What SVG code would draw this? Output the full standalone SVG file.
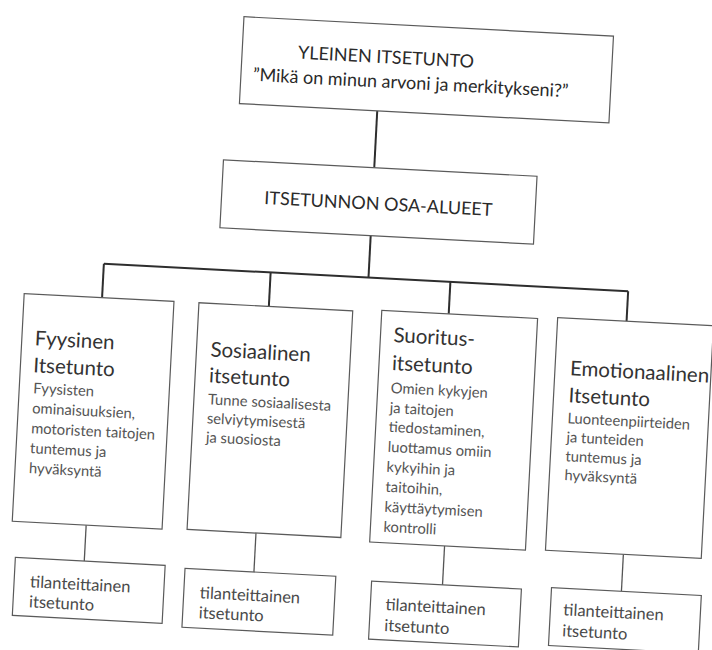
<svg xmlns="http://www.w3.org/2000/svg" width="712" height="650" viewBox="0 0 712 650">
<style>
  .box { fill: #ffffff; stroke: #5a5a5a; stroke-width: 1.2; }
  .conn { fill: none; stroke: #2e2e2e; stroke-width: 2; }
  .conn2 { fill: none; stroke: #555555; stroke-width: 1.3; }
  .title { font-family: Lato, "Open Sans", sans-serif; font-size: 18px; fill: #2a2a2a; text-anchor: middle; }
  .head { font-family: Lato, "Open Sans", sans-serif; font-size: 20.5px; fill: #333333; }
  .body { font-family: Lato, "Open Sans", sans-serif; font-size: 14.8px; fill: #555555; }
  .small { font-family: Lato, "Open Sans", sans-serif; font-size: 16.5px; fill: #4a4a4a; }
</style>
<rect x="0" y="0" width="712" height="650" fill="#ffffff"/>
<g transform="rotate(3 356 325)">
  <g id="connectors">
    <path class="conn" d="M366 110 V167"/>
    <path class="conn" d="M366 235 V277"/>
    <path class="conn" d="M101 277 H626"/>
    <path class="conn" d="M101 277 V311"/>
    <path class="conn" d="M268 277 V311"/>
    <path class="conn" d="M448 277 V309"/>
    <path class="conn" d="M626 277 V307"/>
    <path class="conn2" d="M97 539 V575"/>
    <path class="conn2" d="M267 538 V577"/>
    <path class="conn2" d="M456 541 V580"/>
    <path class="conn2" d="M635 540 V577"/>
  </g>
  <g id="yleinen">
    <rect class="box" x="228" y="23" width="370" height="87"/>
    <text class="title" x="372" y="62">YLEINEN ITSETUNTO</text>
    <text class="title" x="398" y="86.5">”Mikä on minun arvoni ja merkitykseni?”</text>
  </g>
  <g id="osa-alueet">
    <rect class="box" x="215" y="167" width="314" height="68"/>
    <text class="title" x="372" y="209">ITSETUNNON OSA-ALUEET</text>
  </g>
  <g id="fyysinen">
    <rect class="box" x="23" y="311" width="150" height="228"/>
    <text class="head" x="36" y="362">Fyysinen</text>
    <text class="head" x="36" y="389">Itsetunto</text>
    <text class="body" x="37" y="410">Fyysisten</text>
    <text class="body" x="37" y="430">ominaisuuksien,</text>
    <text class="body" x="37" y="450">motoristen taitojen</text>
    <text class="body" x="37" y="470">tuntemus ja</text>
    <text class="body" x="37" y="490">hyväksyntä</text>
  </g>
  <g id="sosiaalinen">
    <rect class="box" x="198" y="311" width="154" height="227"/>
    <text class="head" x="212" y="364">Sosiaalinen</text>
    <text class="head" x="212" y="390">itsetunto</text>
    <text class="body" x="212" y="412">Tunne sosiaalisesta</text>
    <text class="body" x="212" y="431">selviytymisestä</text>
    <text class="body" x="212" y="450">ja suosiosta</text>
  </g>
  <g id="suoritus">
    <rect class="box" x="381" y="309" width="156" height="232"/>
    <text class="head" x="394" y="340">Suoritus-</text>
    <text class="head" x="394" y="368">itsetunto</text>
    <text class="body" x="394" y="391">Omien kykyjen</text>
    <text class="body" x="394" y="411">ja taitojen</text>
    <text class="body" x="394" y="430">tiedostaminen,</text>
    <text class="body" x="394" y="450">luottamus omiin</text>
    <text class="body" x="394" y="470">kykyihin ja</text>
    <text class="body" x="394" y="490">taitoihin,</text>
    <text class="body" x="394" y="510">käyttäytymisen</text>
    <text class="body" x="394" y="530">kontrolli</text>
  </g>
  <g id="emotionaalinen">
    <rect class="box" x="557" y="307" width="156" height="233"/>
    <text class="head" x="572" y="364">Emotionaalinen</text>
    <text class="head" x="572" y="391">Itsetunto</text>
    <text class="body" x="572" y="412">Luonteenpiirteiden</text>
    <text class="body" x="572" y="431">ja tunteiden</text>
    <text class="body" x="572" y="450">tuntemus ja</text>
    <text class="body" x="572" y="469">hyväksyntä</text>
  </g>
  <g id="tilanne1">
    <rect class="box" x="28" y="575" width="150" height="58"/>
    <text class="small" x="44" y="604">tilanteittainen</text>
    <text class="small" x="44" y="624">itsetunto</text>
  </g>
  <g id="tilanne2">
    <rect class="box" x="198" y="577" width="151" height="59"/>
    <text class="small" x="214" y="606">tilanteittainen</text>
    <text class="small" x="214" y="626">itsetunto</text>
  </g>
  <g id="tilanne3">
    <rect class="box" x="385" y="580" width="150" height="58"/>
    <text class="small" x="400" y="608">tilanteittainen</text>
    <text class="small" x="400" y="629">itsetunto</text>
  </g>
  <g id="tilanne4">
    <rect class="box" x="565" y="577" width="150" height="58"/>
    <text class="small" x="578" y="604">tilanteittainen</text>
    <text class="small" x="578" y="625">itsetunto</text>
  </g>
</g>
</svg>
